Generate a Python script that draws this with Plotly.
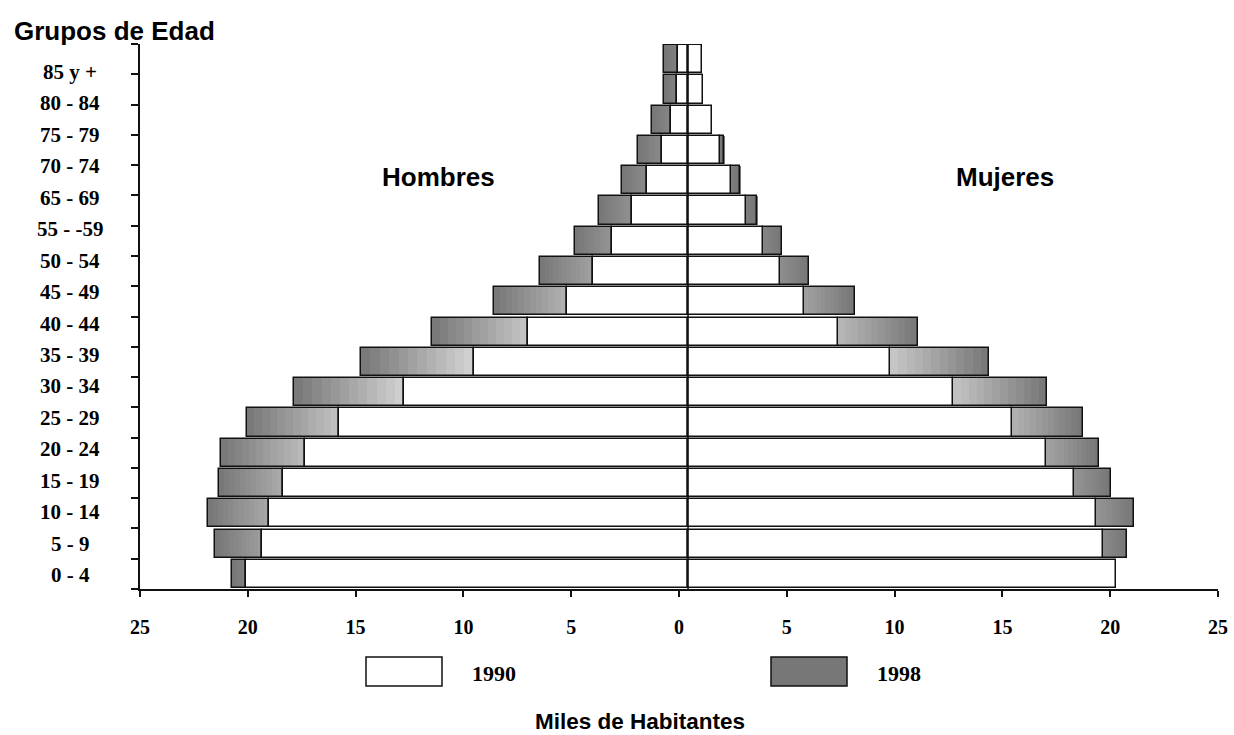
import plotly.graph_objects as go

# ---------------- data (bottom row first) ----------------
row_groups = ["0 - 4", "5 - 9", "10 - 14", "15 - 19", "20 - 24", "25 - 29", "30 - 34",
              "35 - 39", "40 - 44", "45 - 49", "50 - 54", "55 - 59", "60 - 64", "65 - 69",
              "70 - 74", "75 - 79", "80 - 84", "85 y +"]
axis_labels = ["0 - 4", "5 - 9", "10 - 14", "15 - 19", "20 - 24", "25 - 29", "30 - 34",
               "35 - 39", "40 - 44", "45 - 49", "50 - 54", "55 - -59", "65 - 69",
               "70 - 74", "75 - 79", "80 - 84", "85 y +"]
hombres_1990 = [20.52, 19.77, 19.43, 18.80, 17.78, 16.19, 13.17, 9.94, 7.42, 5.63,
                4.39, 3.51, 2.58, 1.92, 1.22, 0.79, 0.51, 0.45]
hombres_1998 = [21.15, 21.95, 22.28, 21.77, 21.65, 20.47, 18.27, 15.17, 11.87, 9.01,
                6.86, 5.24, 4.13, 3.08, 2.33, 1.67, 1.11, 1.11]
mujeres_1990 = [19.85, 19.26, 18.93, 17.89, 16.59, 15.04, 12.29, 9.37, 6.96, 5.38,
                4.27, 3.46, 2.69, 1.99, 1.48, 1.11, 0.70, 0.65]
mujeres_1998 = [19.60, 20.38, 20.67, 19.62, 19.08, 18.32, 16.65, 13.96, 10.67, 7.75,
                5.63, 4.35, 3.21, 2.43, 1.67, 1.05, 0.62, 0.58]
x_tick_vals = [-25, -20, -15, -10, -5, 0, 5, 10, 15, 20, 25]
x_tick_text = ["25", "20", "15", "10", "5", "0", "5", "10", "15", "20", "25"]

# ---------------- layout constants ----------------
W, H = 1234, 735
ML, MR, MT, MB = 140, 16, 44, 146
CENTER = 0.42          # bars originate slightly right of the axis zero, as in the original
BAR_W = 0.93
K = 12                 # gradient slices
DARK = 118
SERIF = "Liberation Serif, Times New Roman, serif"
SANS = "Liberation Sans, Arial, sans-serif"
EDGE = "#111111"

pw, ph = W - ML - MR, H - MT - MB
n = len(row_groups)
rows = list(range(n))


def px(x):
    return (x - ML) / pw


def py(y):
    return (H - MB - y) / ph


def row_v(ypix):
    return (H - MB - ypix) / (ph / n) - 0.5


def gray(level):
    v = int(round(max(0, min(255, level))))
    return f"rgb({v},{v},{v})"


fig = go.Figure()

seg_m = [max(b - a, 0) for a, b in zip(hombres_1990, hombres_1998)]
seg_f = [max(b - a, 0) for a, b in zip(mujeres_1990, mujeres_1998)]
light_m = [min(DARK + 18 * s, 228) for s in seg_m]
light_f = [min(DARK + 18 * s, 228) for s in seg_f]

# gradient slices of the 1998 excess (outer end dark, inner end light)
for j in range(K):
    frac = (j + 0.5) / K
    fig.add_trace(go.Bar(
        y=rows, orientation="h", width=BAR_W,
        base=[CENTER - m98 + j * s / K for m98, s in zip(hombres_1998, seg_m)],
        x=[s / K if s > 0 else None for s in seg_m],
        marker=dict(color=[gray(DARK + (lt - DARK) * frac) for lt in light_m], line=dict(width=0)),
        showlegend=False, hoverinfo="skip"))
    fig.add_trace(go.Bar(
        y=rows, orientation="h", width=BAR_W,
        base=[CENTER + f90 + j * s / K for f90, s in zip(mujeres_1990, seg_f)],
        x=[s / K if s > 0 else None for s in seg_f],
        marker=dict(color=[gray(lt - (lt - DARK) * frac) for lt in light_f], line=dict(width=0)),
        showlegend=False, hoverinfo="skip"))

# outlines of 1998 segments
fig.add_trace(go.Bar(
    y=rows, orientation="h", width=BAR_W,
    base=[CENTER - m98 for m98 in hombres_1998],
    x=[s if s > 0 else None for s in seg_m],
    marker=dict(color="rgba(0,0,0,0)", line=dict(color=EDGE, width=1.5)),
    name="1998", showlegend=False, hoverinfo="skip"))
fig.add_trace(go.Bar(
    y=rows, orientation="h", width=BAR_W,
    base=[CENTER + f90 for f90 in mujeres_1990],
    x=[s if s > 0 else None for s in seg_f],
    marker=dict(color="rgba(0,0,0,0)", line=dict(color=EDGE, width=1.5)),
    showlegend=False, hoverinfo="skip"))

# 1990 white bars
fig.add_trace(go.Bar(
    y=rows, orientation="h", width=BAR_W, base=[CENTER] * n,
    x=[-v for v in hombres_1990],
    marker=dict(color="white", line=dict(color=EDGE, width=1.5)),
    name="1990", showlegend=False, hoverinfo="skip"))
fig.add_trace(go.Bar(
    y=rows, orientation="h", width=BAR_W, base=[CENTER] * n,
    x=mujeres_1990,
    marker=dict(color="white", line=dict(color=EDGE, width=1.5)),
    showlegend=False, hoverinfo="skip"))

# central vertical line
fig.add_shape(type="line", xref="x", yref="y", x0=CENTER, x1=CENTER,
              y0=n - 0.5 - (1 - BAR_W) / 2, y1=-0.6, line=dict(color=EDGE, width=1.5))

annotations = []
lab_top, lab_bot = 72, 575
step = (lab_bot - lab_top) / (len(axis_labels) - 1)
for i, lab in enumerate(axis_labels):
    annotations.append(dict(text=lab, xref="paper", yref="y", x=px(70), y=row_v(lab_bot - i * step),
                            xanchor="center", yanchor="middle", showarrow=False,
                            font=dict(family=SERIF, size=21, color="black", weight="bold")))

annotations += [
    dict(text="Grupos de Edad", xref="paper", yref="paper", x=px(12), y=py(31),
         xanchor="left", yanchor="middle", showarrow=False,
         font=dict(family=SANS, size=26, color="black", weight="bold")),
    dict(text="Hombres", xref="paper", yref="paper", x=px(438), y=py(177),
         xanchor="center", yanchor="middle", showarrow=False,
         font=dict(family=SANS, size=26, color="black", weight="bold")),
    dict(text="Mujeres", xref="paper", yref="paper", x=px(1005), y=py(177),
         xanchor="center", yanchor="middle", showarrow=False,
         font=dict(family=SANS, size=26, color="black", weight="bold")),
    dict(text="Miles de Habitantes", xref="paper", yref="paper", x=px(640), y=py(721),
         xanchor="center", yanchor="middle", showarrow=False,
         font=dict(family=SANS, size=22.5, color="black", weight="bold")),
    dict(text="1990", xref="paper", yref="paper", x=px(470), y=py(673),
         xanchor="left", yanchor="middle", showarrow=False,
         font=dict(family=SERIF, size=22, color="black", weight="bold")),
    dict(text="1998", xref="paper", yref="paper", x=px(875), y=py(673),
         xanchor="left", yanchor="middle", showarrow=False,
         font=dict(family=SERIF, size=22, color="black", weight="bold")),
]

fig.add_shape(type="rect", xref="paper", yref="paper", x0=px(366), x1=px(442), y0=py(657), y1=py(686),
              fillcolor="white", line=dict(color=EDGE, width=1.5))
fig.add_shape(type="rect", xref="paper", yref="paper", x0=px(771), x1=px(847), y0=py(657), y1=py(686),
              fillcolor="#777777", line=dict(color=EDGE, width=1.5))

bounds = [i - 0.5 for i in range(n + 1)]

fig.update_layout(
    width=W, height=H, margin=dict(l=ML, r=MR, t=MT, b=MB, autoexpand=False),
    paper_bgcolor="white", plot_bgcolor="white",
    barmode="overlay", bargap=0,
    annotations=annotations,
    xaxis=dict(range=[-25, 25], tickvals=x_tick_vals, ticktext=x_tick_text, automargin=False,
               showgrid=False, zeroline=False, showline=True, linecolor=EDGE, linewidth=1.5,
               ticks="outside", ticklen=6, tickwidth=1.5, tickcolor=EDGE,
               ticklabelstandoff=13,
               tickfont=dict(family=SERIF, size=20, color="black", weight="bold")),
    xaxis2=dict(range=[-25, 25], overlaying="x", anchor="y", tickvals=[-25, 25], automargin=False,
                showgrid=False, zeroline=False, showline=False, showticklabels=False,
                ticks="inside", ticklen=7, tickwidth=1.5, tickcolor=EDGE, side="bottom"),
    yaxis=dict(range=[-0.5, n - 0.5], tickvals=bounds, showticklabels=False, automargin=False,
               showgrid=False, zeroline=False, showline=True, linecolor=EDGE, linewidth=1.5,
               ticks="outside", ticklen=7, tickwidth=1.5, tickcolor=EDGE),
    yaxis3=dict(range=[-0.5, n - 0.5], overlaying="y", anchor="x", side="left", tickvals=bounds,
                showticklabels=False, showgrid=False, zeroline=False, showline=False, automargin=False,
                ticks="inside", ticklen=7, tickwidth=1.5, tickcolor=EDGE),
)

fig.write_html("out.html", config={"displayModeBar": False},
               post_script="document.body.style.margin='0';")
